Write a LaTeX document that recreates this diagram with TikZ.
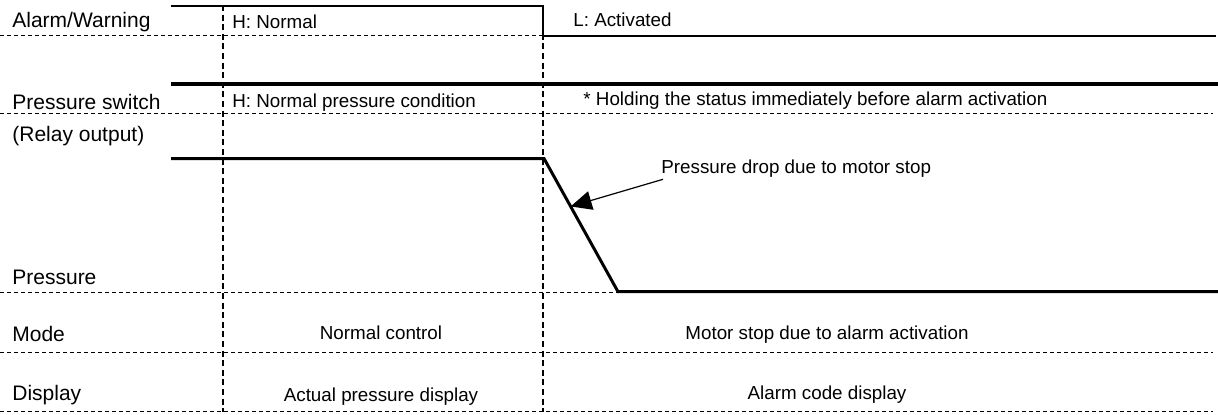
\documentclass[tikz,border=0pt]{standalone}
\usepackage{fontspec}
\setmainfont{Liberation Sans}
\usetikzlibrary{arrows.meta}
\begin{document}
\begin{tikzpicture}[x=0.5pt,y=-0.5pt,
	lbl/.style={anchor=base west,inner sep=0pt,font=\fontsize{10.5}{12}\selectfont},
	txt/.style={inner sep=0pt,font=\fontsize{9.4}{11}\selectfont},
	grid/.style={line width=0.5pt,dash pattern=on 2pt off 1.5pt},
	vline/.style={line width=1.1pt,dash pattern=on 3pt off 1.8pt},
	sig/.style={line width=1pt}]
		\useasboundingbox (0,0) rectangle (1218,414);
		% row labels
		\node[lbl] (alarm) at (12,27) {Alarm/Warning};
		\node[lbl] (psw) at (12,109) {Pressure switch};
		\node[lbl] (relay) at (12,141) {(Relay output)};
		\node[lbl] (press) at (12,284) {Pressure};
		\node[lbl] (mode) at (12,341) {Mode};
		\node[lbl] (disp) at (12,400) {Display};
		% separators
		\draw[grid] (0,35) -- (543,35);
		\draw[grid] (0,113) -- (1213,113);
		\draw[grid] (0,292) -- (618,292);
		\draw[grid] (0,352) -- (1213,352);
		\draw[grid] (0,411.5) -- (1213,411.5);
		\draw[vline] (223,5) -- (223,411.5);
		\draw[vline] (543,5) -- (543,411.5);
		% signals
		\draw[sig] (171,5.5) -- (543,5.5) -- (543,36) -- (1216,36);
		\draw[line width=2pt] (171,84) -- (1218,84);
		\draw[line width=1.5pt] (171,158.5) -- (544,158.5)
		-- coordinate[pos=0.36] (droptip) (618,291.7) -- (1218,291.7);
		% texts
		\node[txt,anchor=base west] (hnorm) at (232,28) {H: Normal};
		\node[txt,anchor=base west] (lact) at (573,26) {L: Activated};
		\node[txt,anchor=base west] (hpress) at (232,107) {H: Normal pressure condition};
		\node[txt,anchor=base west] (hold) at (583,105) {* Holding the status immediately before alarm activation};
		\node[txt,anchor=base west] (drop) at (661,173) {Pressure drop due to motor stop};
		\node[txt,anchor=base] (normctl) at (381,339) {Normal control};
		\node[txt,anchor=base] (mstop) at (827,339) {Motor stop due to alarm activation};
		\node[txt,anchor=base] (actual) at (381,401) {Actual pressure display};
		\node[txt,anchor=base] (code) at (827,399) {Alarm code display};
		\draw[-{Triangle[length=10.5pt,width=9.5pt]},line width=0.6pt]
		([xshift=1pt,yshift=-1pt]drop.south west) -- (droptip);
	\end{tikzpicture}
\end{document}
